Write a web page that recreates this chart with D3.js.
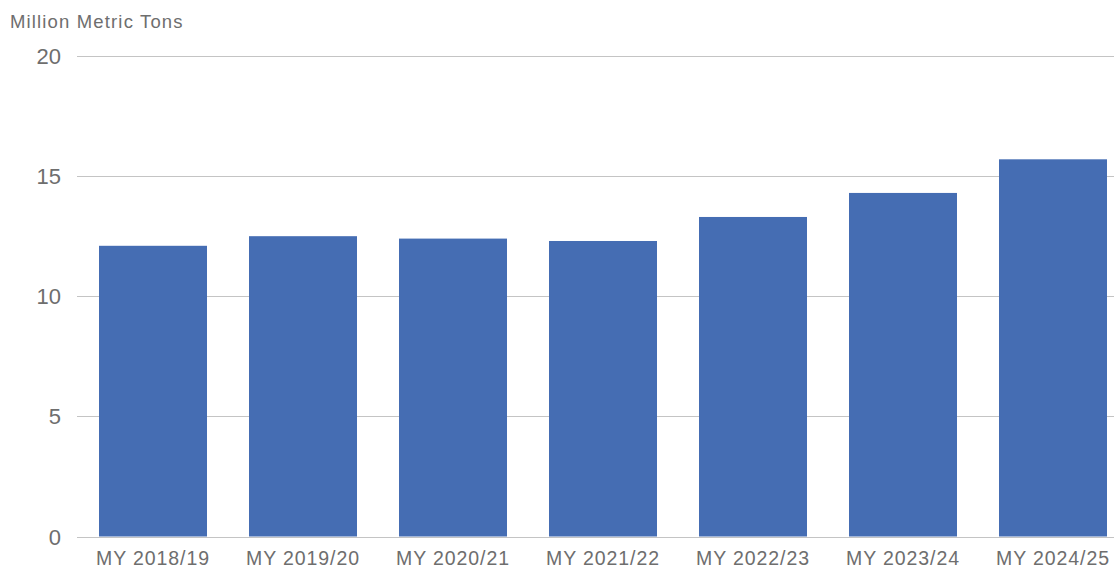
<!DOCTYPE html>
<html><head><meta charset="utf-8">
<script src="https://cdn.jsdelivr.net/npm/d3@7"></script>
<style>
html,body{margin:0;padding:0;background:#fff;}
svg{display:block;font-family:"Liberation Sans",Arial,Helvetica,sans-serif;}
</style></head>
<body>
<svg id="chart" width="1114" height="568"></svg>
<script>
const categories = ["MY 2018/19","MY 2019/20","MY 2020/21","MY 2021/22","MY 2022/23","MY 2023/24","MY 2024/25"];
const values = [12.1, 12.5, 12.4, 12.3, 13.3, 14.3, 15.7];
const yTicks = [0, 5, 10, 15, 20];
const yTitle = "Million Metric Tons";

const svg = d3.select("#chart");
const x = d3.scaleBand().domain(categories).range([78, 1128]).paddingInner(0.28).paddingOuter(0.14);
const y = d3.scaleLinear().domain([0, 20]).range([536.5, 56]);

// gridlines
svg.append("g").selectAll("line").data(yTicks).join("line")
  .attr("x1", 77).attr("x2", 1114)
  .attr("y1", d => Math.round(y(d)) + 0.5).attr("y2", d => Math.round(y(d)) + 0.5)
  .attr("stroke", "#c4c4c4").attr("stroke-width", 1);

// y labels
svg.append("g").selectAll("text").data(yTicks).join("text")
  .attr("x", 61).attr("y", d => y(d) + 8)
  .attr("text-anchor", "end").attr("font-size", 22).attr("fill", "#6e6e6e")
  .text(d => d);

// bars
svg.append("g").selectAll("rect").data(values).join("rect")
  .attr("x", (d, i) => x(categories[i]))
  .attr("width", x.bandwidth())
  .attr("y", d => y(d))
  .attr("height", d => y(0) - y(d))
  .attr("fill", "#456db3");

// x labels
svg.append("g").selectAll("text").data(categories).join("text")
  .attr("x", d => x(d) + x.bandwidth() / 2).attr("y", 564.5)
  .attr("text-anchor", "middle").attr("font-size", 19.5).attr("letter-spacing", 0.9).attr("fill", "#6e6e6e")
  .text(d => d);

// title
svg.append("text").attr("x", 10).attr("y", 28)
  .attr("font-size", 18.5).attr("letter-spacing", 1.15).attr("fill", "#6e6e6e")
  .text(yTitle);
</script>
</body></html>
